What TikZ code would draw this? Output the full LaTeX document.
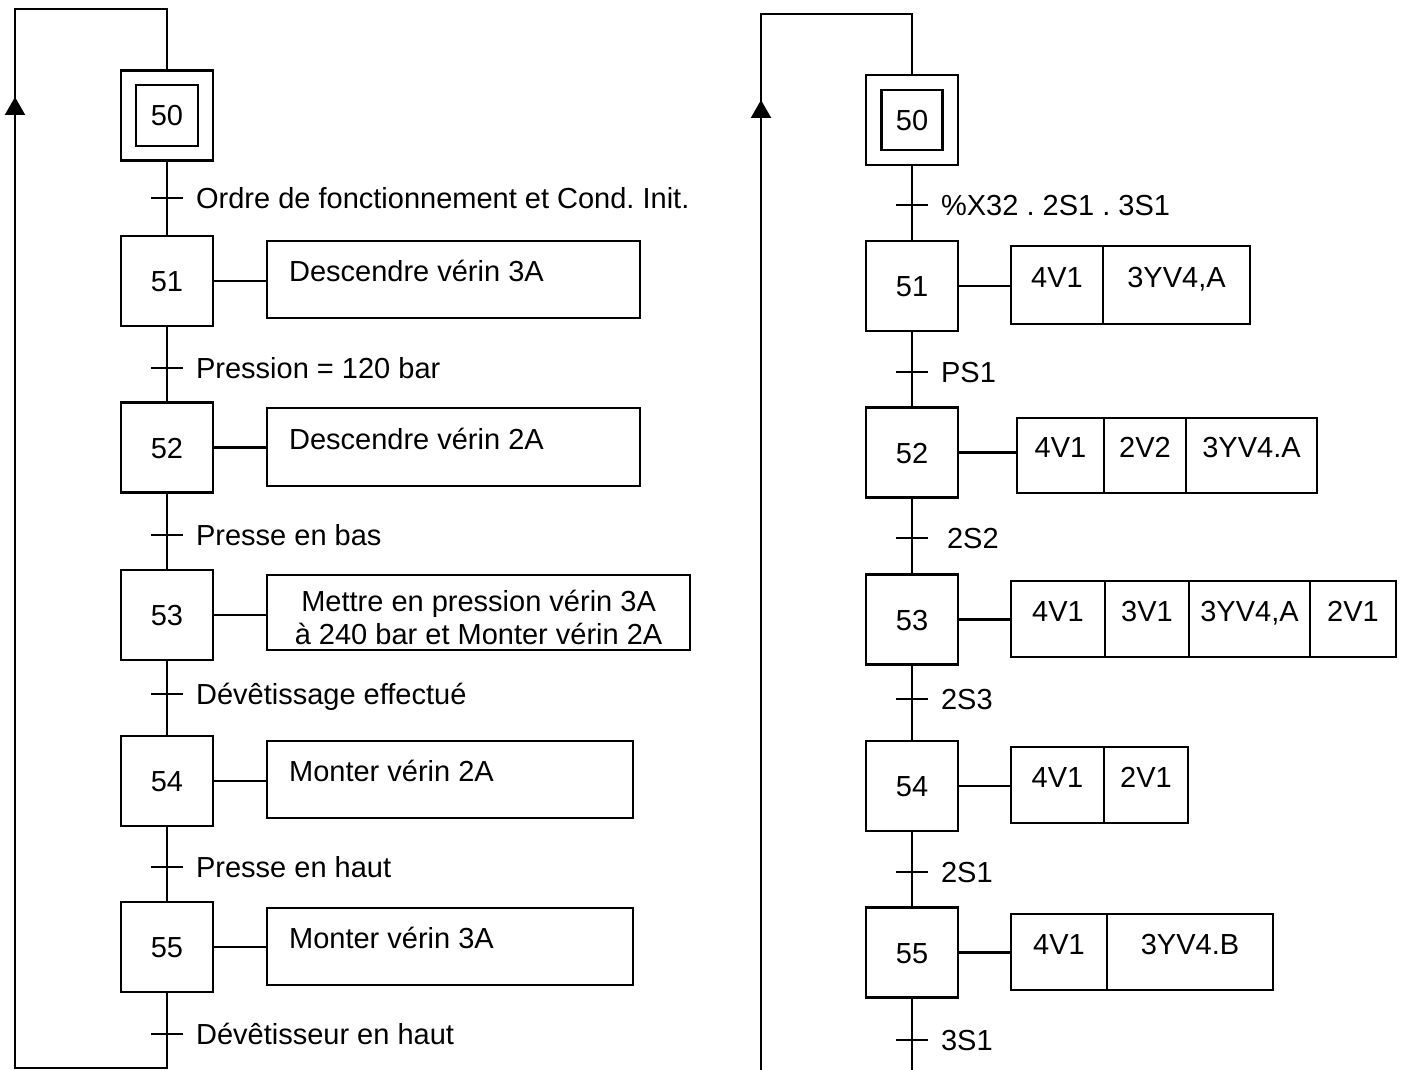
\documentclass[tikz,border=0pt]{standalone}
\usepackage{fontspec}
\setmainfont{Liberation Sans}
\usetikzlibrary{arrows.meta,calc,positioning}

\tikzset{
  etape/.style={draw, minimum width=92pt, minimum height=90pt, inner sep=0pt, text height=21pt, text depth=0pt},
  action/.style={draw, anchor=west, inner ysep=0pt, inner xsep=22pt, text height=21pt, text depth=17pt},
  cell/.style={draw, inner sep=0pt, outer sep=0pt, text height=21pt, text depth=17pt},
  recep/.style={anchor=west, inner sep=0pt, text height=21pt, text depth=0pt},
  fleche/.style={-{Triangle[width=20pt,length=18pt]}}
}

\begin{document}
\begin{tikzpicture}[x=1pt, y=1pt, line width=2.2pt, font=\fontsize{29}{33}\selectfont\frenchspacing]
\useasboundingbox (0,0) rectangle (1402,-1070);

%left grafcet: steps
\node[etape] (L50) at (167,-115.5) {};
\node[etape, minimum width=62pt, minimum height=61pt] (L50i) at (L50) {50};
\foreach \n/\y in {51/281,52/447.5,53/615,54/781,55/947}
  \node[etape] (L\n) at (167,-\y) {\n};

%left grafcet: actions
\foreach \n/\y/\w/\h/\txt in {51/279.5/373/77/Descendre vérin 3A, 52/447/373/78/Descendre vérin 2A,
                              54/779.5/366/77/Monter vérin 2A, 55/946.5/366/77/Monter vérin 3A}{
  \pgfmathsetmacro{\tw}{\w-44}
  \node[action, minimum height=\h pt] (LA\n) at (266,-\y) {\makebox[\tw pt][l]{\txt}};
  \draw (L\n.east) -- (L\n.east -| LA\n.west);
}
\node[draw, anchor=west, minimum width=423pt, minimum height=75pt, inner sep=0pt] (LA53) at (266,-612.5) {};
\node[align=center, inner sep=0pt] (LA53t) at ($(LA53.center)+(0,-5)$) {Mettre en pression vérin 3A\\à 240 bar et Monter vérin 2A};
\draw (L53.east) -- (L53.east -| LA53.west);

%left grafcet: links and receptivities
\draw (L50) -- (L51);
\draw (L51) -- (L52);
\draw (L52) -- (L53);
\draw (L53) -- (L54);
\draw (L54) -- (L55);
\foreach \i/\y/\txt in {1/198/Ordre de fonctionnement et Cond. Init., 2/368/Pression = 120 bar,
                        3/535/Presse en bas, 4/694/Dévêtissage effectué,
                        5/867/Presse en haut, 6/1034/Dévêtisseur en haut}{
  \coordinate (LT\i) at (167,-\y);
  \draw ($(LT\i)+(-16,0)$) -- ($(LT\i)+(16,0)$);
  \node[recep] (LR\i) at ($(LT\i)+(28,0)$) {\txt};
}

%left grafcet: loop back
\coordinate (LB1) at (167,-1068);
\coordinate (LB2) at (15,-1068);
\coordinate (LB3) at (15,-9);
\coordinate (LB4) at (167,-9);
\draw (L55) -- (LB1) -- (LB2) -- (LB3) -- (LB4) -- (L50);
\draw[fleche] (15,-140) -- (15,-97);

%right grafcet: steps
\node[etape] (R50) at (912,-120) {};
\node[etape, minimum width=61pt, minimum height=60pt] (R50i) at (R50) {50};
\foreach \n/\y in {51/286,52/452.5,53/619.5,54/786,55/952.5}
  \node[etape] (R\n) at (912,-\y) {\n};

%right grafcet: actions
\node[cell, anchor=west, minimum width=92pt, minimum height=78pt] (R51a) at (1011,-285) {4V1};
\node[cell, minimum width=147pt, minimum height=78pt, right=0pt of R51a] (R51b) {3YV4,A};

\node[cell, anchor=west, minimum width=87pt, minimum height=75pt] (R52a) at (1017,-455.5) {4V1};
\node[cell, minimum width=82pt, minimum height=75pt, right=0pt of R52a] (R52b) {2V2};
\node[cell, minimum width=131pt, minimum height=75pt, right=0pt of R52b] (R52c) {3YV4.A};

\node[cell, anchor=west, minimum width=94pt, minimum height=76pt] (R53a) at (1011,-619) {4V1};
\node[cell, minimum width=84pt, minimum height=76pt, right=0pt of R53a] (R53b) {3V1};
\node[cell, minimum width=121pt, minimum height=76pt, right=0pt of R53b] (R53c) {3YV4,A};
\node[cell, minimum width=86pt, minimum height=76pt, right=0pt of R53c] (R53d) {2V1};

\node[cell, anchor=west, minimum width=93pt, minimum height=76pt] (R54a) at (1011,-785) {4V1};
\node[cell, minimum width=84pt, minimum height=76pt, right=0pt of R54a] (R54b) {2V1};

\node[cell, anchor=west, minimum width=96pt, minimum height=76pt] (R55a) at (1011,-952) {4V1};
\node[cell, minimum width=166pt, minimum height=76pt, right=0pt of R55a] (R55b) {3YV4.B};

\foreach \n in {51,52,53,54,55}
  \draw (R\n.east) -- (R\n.east -| R\n a.west);

%right grafcet: links and receptivities
\draw (R50) -- (R51);
\draw (R51) -- (R52);
\draw (R52) -- (R53);
\draw (R53) -- (R54);
\draw (R54) -- (R55);
\foreach \i/\y/\dx/\txt in {1/205/28/\%X32 . 2S1 . 3S1, 2/372/28/PS1, 3/538/34/2S2,
                            4/699/28/2S3, 5/872/28/2S1, 6/1040/28/3S1}{
  \coordinate (RT\i) at (912,-\y);
  \draw ($(RT\i)+(-16,0)$) -- ($(RT\i)+(16,0)$);
  \node[recep] (RR\i) at ($(RT\i)+(\dx,0)$) {\txt};
}

%right grafcet: loop back
\coordinate (RB1) at (912,-1070);
\coordinate (RB2) at (761,-1070);
\coordinate (RB3) at (761,-14);
\coordinate (RB4) at (912,-14);
\draw (R55) -- (RB1);
\draw (RB2) -- (RB3) -- (RB4) -- (R50);
\draw[fleche] (761,-143) -- (761,-100);
\end{tikzpicture}
\end{document}
